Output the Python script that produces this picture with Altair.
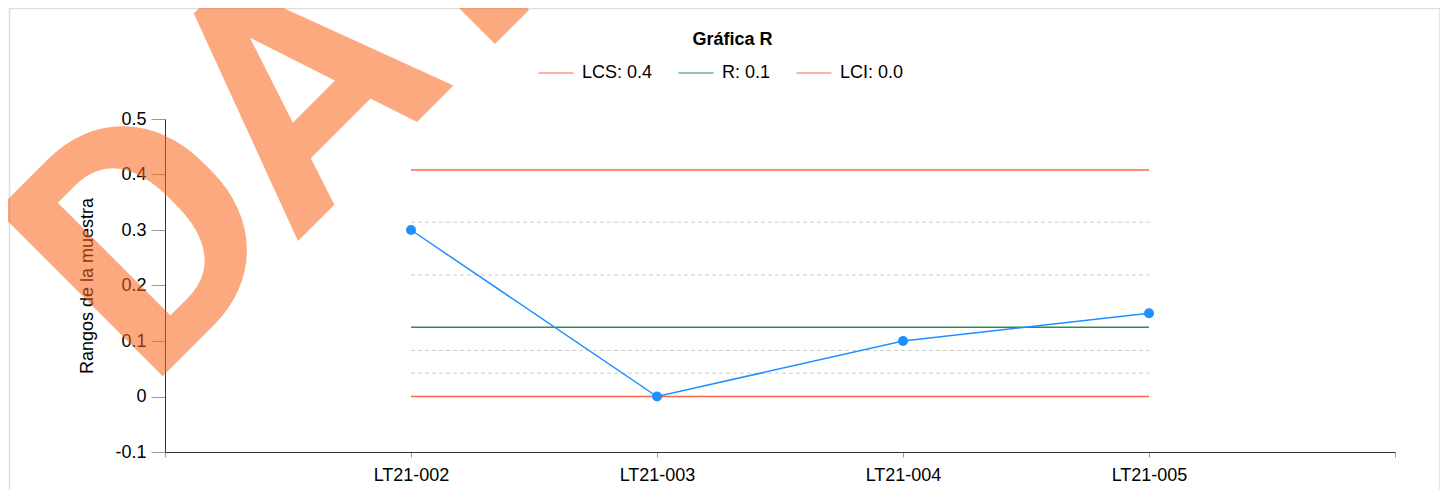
import json
import altair as alt
import pandas as pd

# ---- data ----
categories = ["LT21-002", "LT21-003", "LT21-004", "LT21-005"]
rangos = [0.30, 0.00, 0.10, 0.15]

limit_names = ["LCS: 0.4", "R: 0.1", "LCI: 0.0"]
limit_values = [0.408, 0.125, 0.0]
limit_colors = ["#ff6347", "#2e8b57", "#ff6347"]

zone_values = [0.314, 0.219, 0.083, 0.042]

y_ticks = [-0.1, 0.0, 0.1, 0.2, 0.3, 0.4, 0.5]
chart_title = ["Gráfica R"]
watermark = ["DATOS DE PRUEBA"]

FONT = "Liberation Sans"

# ---- tables ----
idx = list(range(1, len(categories) + 1))
series = pd.DataFrame({"i": idx, "cat": categories, "rango": rangos})
limits = pd.DataFrame({
    "name": limit_names,
    "value": limit_values,
    "x1": [idx[0]] * len(limit_names),
    "x2": [idx[-1]] * len(limit_names),
})
zones = pd.DataFrame({
    "value": zone_values,
    "x1": [idx[0]] * len(zone_values),
    "x2": [idx[-1]] * len(zone_values),
})

n = len(categories)
label_list = [""] + categories + [""]
x_label_expr = f"{json.dumps(label_list)}[round(datum.value)]"

x_scale = alt.Scale(domain=[0, n + 1], nice=False, zero=False)
y_scale = alt.Scale(domain=[y_ticks[0], y_ticks[-1]], nice=False, zero=False)

x_axis = alt.Axis(
    title=None, values=list(range(0, n + 2)), labelExpr=x_label_expr,
    grid=False, domainColor="#333", domainWidth=1, tickColor="#999",
    tickSize=5, labelPadding=9, labelFontSize=18, labelColor="#000",
    labelFont=FONT, labelFlush=False, labelOverlap=False, zindex=0,
)
y_axis = alt.Axis(
    title="Rangos de la muestra", values=y_ticks,
    labelExpr="datum.value == 0 ? '0' : replace(format(datum.value, '.1f'), '\u2212', '-')",
    grid=False, domainColor="#333", domainWidth=1, tickColor="#999",
    tickSize=14, labelPadding=5, labelFontSize=18, labelColor="#000",
    labelFont=FONT, titleFont=FONT, titleFontSize=18, titleFontWeight="normal",
    titleColor="#000", titlePadding=18, labelFlush=False, zindex=0,
)

zone_layer = alt.Chart(zones).mark_rule(
    color="#cccccc", strokeWidth=1, strokeDash=[4, 3]
).encode(
    x=alt.X("x1:Q", scale=x_scale, axis=x_axis),
    x2="x2:Q",
    y=alt.Y("value:Q", scale=y_scale, axis=y_axis),
)

limit_layer = alt.Chart(limits).mark_rule(strokeWidth=1.5).encode(
    x=alt.X("x1:Q", scale=x_scale),
    x2="x2:Q",
    y=alt.Y("value:Q", scale=y_scale),
    color=alt.Color(
        "name:N",
        scale=alt.Scale(domain=limit_names, range=limit_colors),
        legend=alt.Legend(
            title=None, orient="none", direction="horizontal",
            legendX=373, legendY=-64, symbolType="stroke",
            symbolSize=1225, symbolStrokeWidth=1, labelFontSize=18,
            labelFont=FONT, labelColor="#000", labelOffset=8,
            columnPadding=23, padding=0,
        ),
    ),
)

line_layer = alt.Chart(series).mark_line(color="#1e90ff", strokeWidth=1.5).encode(
    x=alt.X("i:Q", scale=x_scale),
    y=alt.Y("rango:Q", scale=y_scale),
)
point_layer = alt.Chart(series).mark_circle(color="#1e90ff", opacity=1, size=100).encode(
    x=alt.X("i:Q", scale=x_scale),
    y=alt.Y("rango:Q", scale=y_scale),
)

title_layer = alt.Chart(pd.DataFrame({"t": chart_title})).mark_text(
    font=FONT, fontWeight="bold", fontSize=18, color="#000",
    align="center", baseline="middle",
).encode(text="t:N", x=alt.value(567.5), y=alt.value(-79))

wm_layer = alt.Chart(pd.DataFrame({"t": watermark})).mark_text(
    font="Roboto", fontWeight="bold", fontSize=330, angle=315,
    align="left", baseline="alphabetic", color="#fa6419", opacity=0.55,
).encode(text="t:N", x=alt.value(-17), y=alt.value(272))

border_layer = alt.Chart(pd.DataFrame({"b": [0]})).mark_rect(
    fill="transparent", stroke="#dddddd", strokeWidth=1.5
).encode(
    x=alt.value(-155.5), x2=alt.value(1275), y=alt.value(-110.5), y2=alt.value(600)
)

chart = alt.layer(
    border_layer, zone_layer, limit_layer, line_layer, point_layer,
    title_layer, wm_layer
).properties(
    width=1230, height=333,
    autosize=alt.AutoSizeParams(type="none"),
    padding={"left": 157, "top": 111, "right": 45, "bottom": 38},
).configure(font=FONT).configure_view(stroke=None)

chart.save("out.html", embed_options={"renderer": "svg", "actions": False})
